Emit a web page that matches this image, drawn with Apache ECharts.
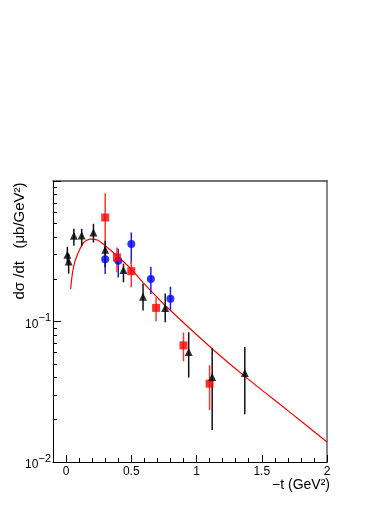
<!DOCTYPE html>
<html>
<head>
<meta charset="utf-8">
<script src="https://cdn.jsdelivr.net/npm/echarts@6/dist/echarts.min.js"></script>
<style>
  html, body { margin: 0; padding: 0; background: #fff; }
  #chart { width: 392px; height: 508px; }
</style>
</head>
<body>
<div id="chart"></div>
<script>
// black triangles
const triX = [0.01, 0.02, 0.06, 0.12, 0.21, 0.30, 0.44, 0.59, 0.76, 0.94, 1.12, 1.37];
const triY = [0.298, 0.267, 0.408, 0.41, 0.43, 0.324, 0.233, 0.150, 0.125, 0.0606, 0.0403, 0.043];
const triLo = [0.262, 0.219, 0.346, 0.346, 0.365, 0.243, 0.190, 0.120, 0.0989, 0.0399, 0.0169, 0.0219];
const triHi = [0.340, 0.303, 0.457, 0.457, 0.496, 0.375, 0.258, 0.186, 0.158, 0.0839, 0.0644, 0.0658];

// red squares
const sqX = [0.30, 0.39, 0.50, 0.69, 0.90, 1.10];
const sqY = [0.55, 0.286, 0.228, 0.125, 0.0676, 0.0361];
const sqLo = [0.33, 0.224, 0.175, 0.1005, 0.052, 0.0234];
const sqHi = [0.818, 0.336, 0.271, 0.149, 0.0835, 0.0488];

// blue circles
const ciX = [0.30, 0.40, 0.50, 0.65, 0.80];
const ciY = [0.277, 0.271, 0.356, 0.201, 0.145];
const ciLo = [0.218, 0.206, 0.257, 0.157, 0.120];
const ciHi = [0.346, 0.330, 0.430, 0.245, 0.177];

// red model curve
const curveX = [0.035, 0.05, 0.07, 0.10, 0.135, 0.186, 0.24, 0.30, 0.39, 0.50, 0.60, 0.76, 1.12, 1.37, 1.70, 2.0];
const curveY = [0.17, 0.224, 0.271, 0.319, 0.365, 0.386, 0.380, 0.346, 0.294, 0.236, 0.185, 0.130, 0.064, 0.0407, 0.0232, 0.0139];

// axis ticks
const xMajor = [0, 0.5, 1, 1.5, 2];
const xMinor = [-0.1, 0.1, 0.2, 0.3, 0.4, 0.6, 0.7, 0.8, 0.9, 1.1, 1.2, 1.3, 1.4, 1.6, 1.7, 1.8, 1.9];
const yMajor = [0.01, 0.1, 1];
const yLabelVals = [0.01, 0.1];
const yLabelExp = ['\u22122', '\u22121'];
const yMinor = [0.02, 0.03, 0.04, 0.05, 0.06, 0.07, 0.08, 0.09, 0.2, 0.3, 0.4, 0.5, 0.6, 0.7, 0.8, 0.9];

const FONT = 'Liberation Sans, Helvetica, Arial, sans-serif';

const chart = echarts.init(document.getElementById('chart'));

function pairs(xs, ys) {
  return xs.map((x, i) => [x, ys[i]]);
}

function errorBars(xs, lo, hi, color) {
  return {
    type: 'custom',
    xAxisIndex: 0,
    yAxisIndex: 0,
    data: xs.map((x, i) => [x, lo[i], hi[i]]),
    encode: { x: 0, y: [1, 2] },
    renderItem: (params, api) => {
      const a = api.coord([api.value(0), api.value(1)]);
      const b = api.coord([api.value(0), api.value(2)]);
      return {
        type: 'line',
        shape: { x1: a[0], y1: a[1], x2: b[0], y2: b[1] },
        style: { stroke: color, lineWidth: 1.5 }
      };
    },
    z: 2
  };
}

const option = {
  animation: false,
  grid: { left: 53, right: 65, top: 181, bottom: 46 },
  xAxis: [
    {
      type: 'value', min: -0.1, max: 2, position: 'bottom',
      axisLine: { onZero: false, lineStyle: { color: '#000', width: 1 } },
      axisTick: { inside: true, length: 7, customValues: xMajor, lineStyle: { color: '#000' } },
      axisLabel: { customValues: xMajor, margin: 4, color: '#000', fontSize: 12, fontFamily: FONT },
      splitLine: { show: false },
      name: '\u2212t (GeV\u00b2)', nameLocation: 'end', nameGap: 0,
      nameTextStyle: { align: 'right', verticalAlign: 'top', padding: [16, -3, 0, 0], fontSize: 14, fontFamily: FONT, color: '#000' }
    },
    {
      type: 'value', min: -0.1, max: 2, position: 'bottom',
      axisLine: { show: false, onZero: false },
      axisTick: { inside: true, length: 4, customValues: xMinor, lineStyle: { color: '#000' } },
      axisLabel: { show: false },
      splitLine: { show: false }
    },
    {
      type: 'value', min: -0.1, max: 2, position: 'top',
      axisLine: { onZero: false, lineStyle: { color: '#444', width: 1.5 } },
      axisTick: { show: false }, axisLabel: { show: false }, splitLine: { show: false }
    }
  ],
  yAxis: [
    {
      type: 'log', logBase: 10, min: 0.01, max: 1, position: 'left',
      axisLine: { show: true, onZero: false, lineStyle: { color: '#000', width: 1 } },
      axisTick: { show: true, inside: true, length: 8, customValues: yMajor, lineStyle: { color: '#000' } },
      axisLabel: {
        customValues: yLabelVals, margin: 2, color: '#000',
        formatter: v => '{b|10}{s|' + yLabelExp[yLabelVals.indexOf(v)] + '}',
        rich: {
          b: { fontSize: 12, fontFamily: FONT, color: '#000', verticalAlign: 'bottom' },
          s: { fontSize: 11, fontFamily: FONT, color: '#000', verticalAlign: 'bottom', padding: [0, 0, 7, 0] }
        }
      },
      splitLine: { show: false }
    },
    {
      type: 'log', logBase: 10, min: 0.01, max: 1, position: 'left',
      axisLine: { show: false, onZero: false },
      axisTick: { show: true, inside: true, length: 4, customValues: yMinor, lineStyle: { color: '#000' } },
      axisLabel: { show: false },
      splitLine: { show: false }
    },
    {
      type: 'log', logBase: 10, min: 0.01, max: 1, position: 'right',
      axisLine: { show: true, onZero: false, lineStyle: { color: '#888', width: 2 } },
      axisTick: { show: false }, axisLabel: { show: false }, splitLine: { show: false }
    }
  ],
  graphic: [
    {
      type: 'text', x: 20, y: 241, rotation: Math.PI / 2,
      style: {
        text: 'd\u03c3 /dt   (\u03bcb/GeV\u00b2)', align: 'center', verticalAlign: 'middle',
        font: '15px ' + FONT, fill: '#000'
      }
    }
  ],
  series: [
    {
      type: 'line', xAxisIndex: 0, yAxisIndex: 0,
      data: pairs(curveX, curveY),
      showSymbol: false, smooth: 0.25,
      lineStyle: { color: '#ff0000', width: 1.2 },
      z: 1
    },
    errorBars(ciX, ciLo, ciHi, '#1a1aff'),
    errorBars(sqX, sqLo, sqHi, '#ff3333'),
    errorBars(triX, triLo, triHi, '#111'),
    {
      type: 'scatter', xAxisIndex: 0, yAxisIndex: 0,
      data: pairs(ciX, ciY), symbol: 'circle', symbolSize: 8,
      itemStyle: { color: '#0000ff' }, z: 3
    },
    {
      type: 'scatter', xAxisIndex: 0, yAxisIndex: 0,
      data: pairs(sqX, sqY), symbol: 'rect', symbolSize: 8,
      itemStyle: { color: '#ff0000' }, z: 3
    },
    {
      type: 'scatter', xAxisIndex: 0, yAxisIndex: 0,
      data: pairs(triX, triY), symbol: 'triangle', symbolSize: [8, 8],
      itemStyle: { color: '#000' }, z: 3
    }
  ]
};

chart.setOption(option);
</script>
</body>
</html>
